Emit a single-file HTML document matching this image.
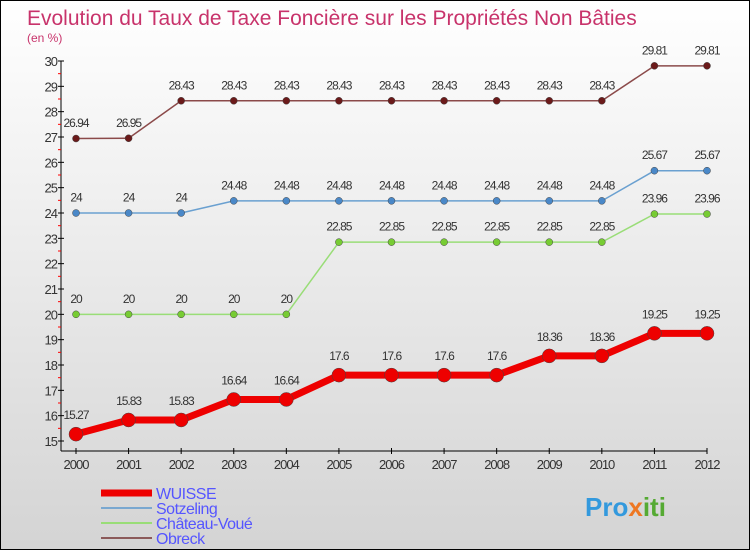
<!DOCTYPE html>
<html><head><meta charset="utf-8"><style>
body{margin:0;}
#c{width:750px;height:550px;position:relative;background:linear-gradient(#fff,#d4d4d4);border:1px solid #000;box-sizing:border-box;font-family:"Liberation Sans",sans-serif;overflow:hidden}
</style></head><body>
<div id="c">
<svg id="s" width="750" height="550"></svg>
</div>
<script>
const years=[2000,2001,2002,2003,2004,2005,2006,2007,2008,2009,2010,2011,2012];
const wuisse=[15.27,15.83,15.83,16.64,16.64,17.6,17.6,17.6,17.6,18.36,18.36,19.25,19.25];
const sotzeling=[24,24,24,24.48,24.48,24.48,24.48,24.48,24.48,24.48,24.48,25.67,25.67];
const chateau=[20,20,20,20,20,22.85,22.85,22.85,22.85,22.85,22.85,23.96,23.96];
const obreck=[26.94,26.95,28.43,28.43,28.43,28.43,28.43,28.43,28.43,28.43,28.43,29.81,29.81];
const yTicks=[15,16,17,18,19,20,21,22,23,24,25,26,27,28,29,30];
const NS="http://www.w3.org/2000/svg";
const svg=document.getElementById('s');
function X(i){return 75+i*(706-75)/12;}
function Y(v){return 440-(v-15)*(440-60)/15;}
function mk(t,a,p){const e=document.createElementNS(NS,t);for(const k in a)e.setAttribute(k,a[k]);(p||svg).appendChild(e);return e;}
let t=mk('text',{x:26,y:24,'font-size':21,fill:'#c8336b'});t.textContent='Evolution du Taux de Taxe Foncière sur les Propriétés Non Bâties';


t=mk('text',{x:26,y:41,'font-size':12,fill:'#c8336b'});t.textContent='(en %)';


let a=mk('line',{x1:60,y1:60,x2:60,y2:450,stroke:'#000'});


a=mk('line',{x1:60,y1:450,x2:706,y2:450,stroke:'#000'});


yTicks.forEach(v=>{mk('line',{x1:57,x2:63,y1:Y(v),y2:Y(v),stroke:'#000'});
 if(v<30)mk('line',{x1:57,x2:60,y1:Y(v+0.5),y2:Y(v+0.5),stroke:'#f00'});
 const l=mk('text',{x:56,y:Y(v)+5,'font-size':13,'text-anchor':'end',fill:'#333','letter-spacing':'-1'});l.textContent=v;
 
 });
years.forEach((y,i)=>{mk('line',{x1:X(i),x2:X(i),y1:447,y2:453,stroke:'#000'});
 const l=mk('text',{x:X(i),y:468,'font-size':13,'text-anchor':'middle',fill:'#333','letter-spacing':'-1'});l.textContent=y;
 
 });
function series(vals,color,fill,w,r,name,fs){
 const g=mk('g',{});
 
 
 mk('polyline',{points:vals.map((v,i)=>X(i)+','+Y(v)).join(' '),fill:'none',stroke:color,'stroke-width':w,'stroke-linejoin':'round'},g);
 vals.forEach((v,i)=>{const c=mk('circle',{cx:X(i),cy:Y(v),r:r,fill:fill,stroke:'#444','stroke-width':0.5},g);
  
  
  const l=mk('text',{x:X(i),y:Y(v)-(r+8),'font-size':fs,'text-anchor':'middle',fill:'#333','letter-spacing':'-1'},g);l.textContent=v;
  
  });
}
series(obreck,'#8b4a4a','#6b1a1a',1.5,3.5,'obreck',12);
series(sotzeling,'#6aa0d0','#4a88c8',1.5,3.5,'sotzeling',12);
series(chateau,'#99dd77','#77cc33',1.5,3.5,'chateau-voue',12);
series(wuisse,'#ee0000','#ee0000',7,7,'wuisse',12);
const leg=[['WUISSE','#ee0000',7],['Sotzeling','#7aa8d0',2],['Château-Voué','#99dd77',2],['Obreck','#8b5a5a',2]];
leg.forEach((d,i)=>{const y=492+i*15;
 const g=mk('g',{});
 
 
 mk('line',{x1:100,x2:151,y1:y,y2:y,stroke:d[1],'stroke-width':d[2]},g);
 const l=mk('text',{x:155,y:y+6,'font-size':16,fill:'#5555ff','letter-spacing':'-0.5'},g);l.textContent=d[0];});
const p=mk('text',{x:584,y:515,'font-size':26,'font-weight':'bold',fill:'#3399dd'});
p.innerHTML='Pro<tspan fill="#ee7722">x</tspan><tspan fill="#55aa33">iti</tspan>';


</script>
</body></html>
